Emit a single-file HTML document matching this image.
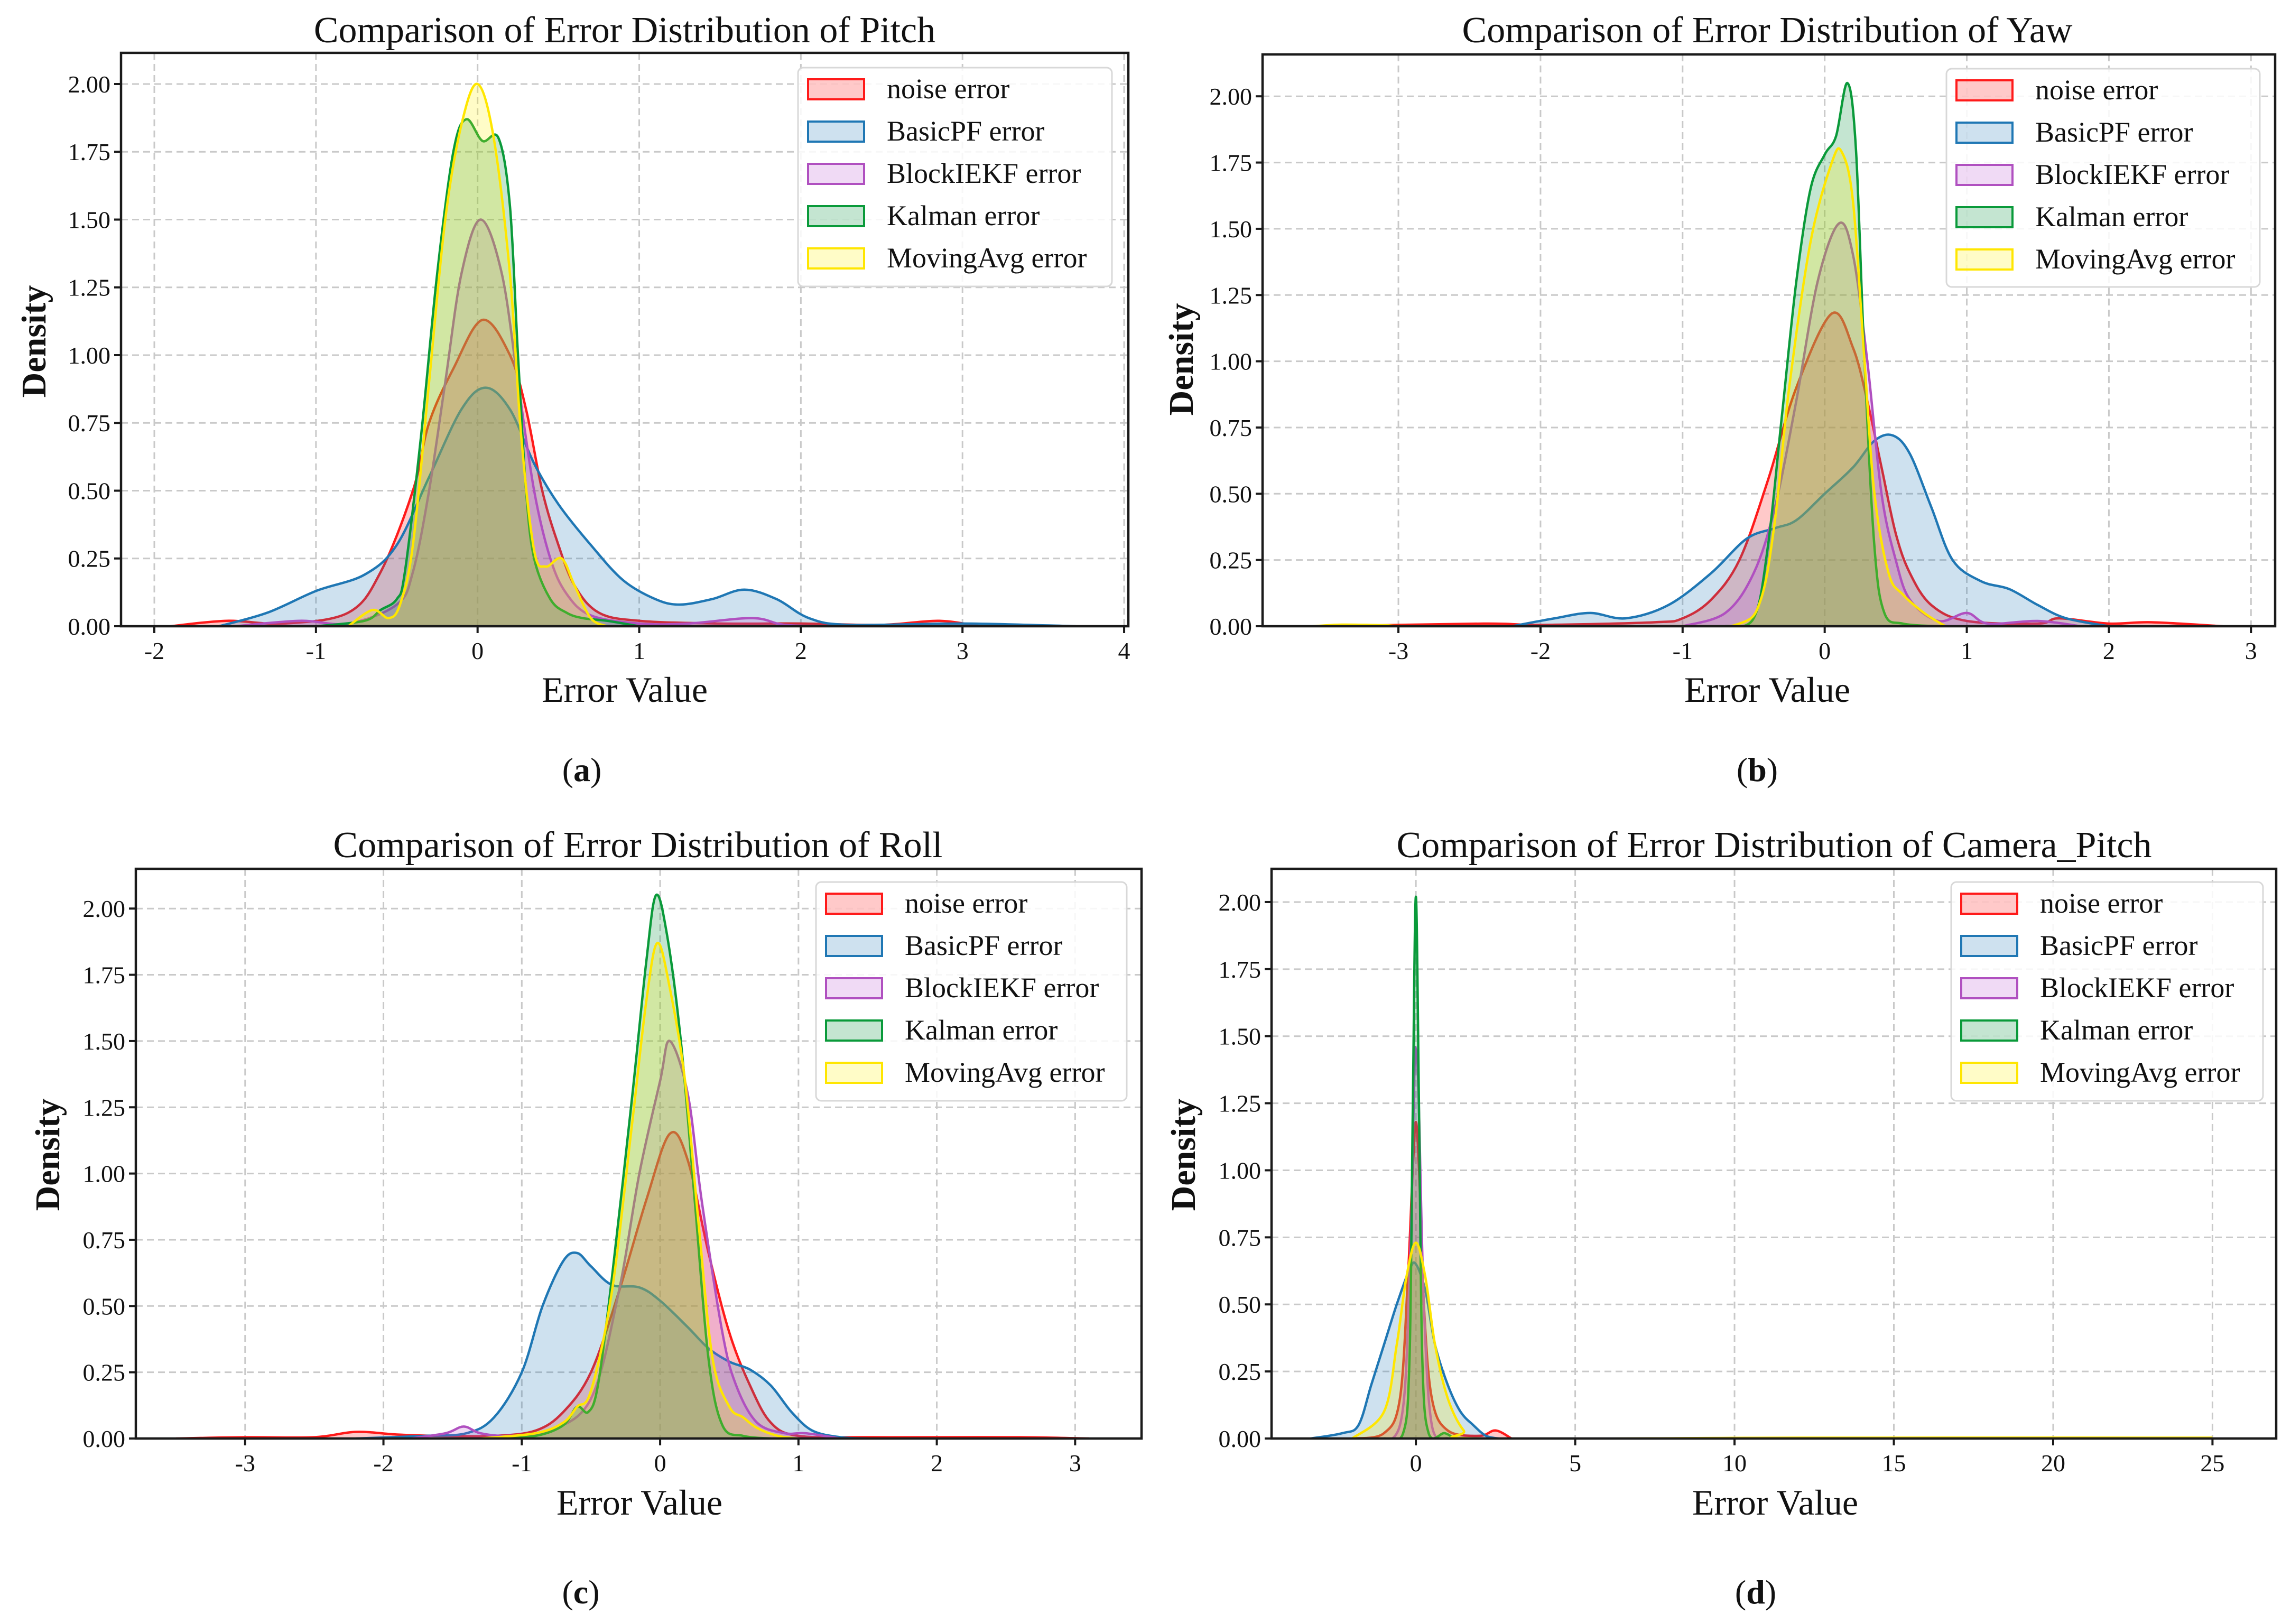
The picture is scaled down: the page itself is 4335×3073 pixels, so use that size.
<!DOCTYPE html>
<html><head><meta charset="utf-8"><style>
html,body{margin:0;padding:0;background:#fff;}
svg{display:block;}
text{font-family:"Liberation Serif",serif;fill:#111;}
</style></head><body>
<svg id="fig" width="4335" height="3073" viewBox="0 0 4335 3073" xmlns="http://www.w3.org/2000/svg"></svg>
<script>
// ---------- data ----------
const seriesNames = ["noise error","BasicPF error","BlockIEKF error","Kalman error","MovingAvg error"];
const yTickLabels = ["0.00","0.25","0.50","0.75","1.00","1.25","1.50","1.75","2.00"];
const pitchXTicks = [-2,-1,0,1,2,3,4];
const yawXTicks = [-3,-2,-1,0,1,2,3];
const rollXTicks = [-3,-2,-1,0,1,2,3];
const camXTicks = [0,5,10,15,20,25];

const pitchNoise = [[-1.9,0],[-1.55,0.02],[-1.2,0.01],[-0.8,0.05],[-0.6,0.2],[-0.4,0.5],[-0.3,0.75],[-0.15,0.95],[0.03,1.13],[0.2,1.0],[0.3,0.8],[0.4,0.5],[0.5,0.3],[0.6,0.15],[0.75,0.05],[1,0.02],[1.5,0.01],[2,0.01],[2.5,0.005],[2.85,0.02],[3.1,0]];
const pitchBasic = [[-1.6,0],[-1.3,0.05],[-1,0.13],[-0.7,0.19],[-0.5,0.3],[-0.3,0.55],[-0.1,0.8],[0.05,0.88],[0.2,0.8],[0.35,0.6],[0.5,0.45],[0.7,0.3],[0.9,0.17],[1.1,0.1],[1.25,0.08],[1.45,0.1],[1.65,0.135],[1.85,0.1],[2.05,0.03],[2.3,0.005],[3,0.01],[3.7,0]];
const pitchBlock = [[-1.5,0],[-1.1,0.02],[-0.8,0.01],[-0.5,0.08],[-0.4,0.2],[-0.3,0.5],[-0.2,0.9],[-0.1,1.3],[0.02,1.5],[0.15,1.3],[0.25,0.9],[0.35,0.5],[0.45,0.25],[0.55,0.12],[0.7,0.04],[1,0.01],[1.3,0.01],[1.7,0.03],[1.9,0.005],[2.2,0]];
const pitchKalman = [[-1,0],[-0.7,0.02],[-0.6,0.06],[-0.5,0.1],[-0.45,0.2],[-0.35,0.7],[-0.25,1.3],[-0.15,1.75],[-0.07,1.87],[0.03,1.79],[0.13,1.8],[0.2,1.55],[0.25,1.0],[0.3,0.5],[0.35,0.25],[0.45,0.1],[0.55,0.05],[0.65,0.03],[0.8,0.02],[1,0]];
const pitchMA = [[-0.8,0],[-0.65,0.06],[-0.55,0.03],[-0.48,0.08],[-0.4,0.3],[-0.3,0.9],[-0.2,1.5],[-0.1,1.85],[0,2.0],[0.1,1.8],[0.2,1.3],[0.27,0.7],[0.35,0.28],[0.42,0.22],[0.52,0.25],[0.6,0.15],[0.7,0.03],[0.8,0]];

const yawNoise = [[-3.5,0],[-2.4,0.01],[-2,0.005],[-1.2,0.015],[-1,0.03],[-0.8,0.1],[-0.6,0.25],[-0.4,0.55],[-0.2,0.9],[0.05,1.18],[0.2,1.05],[0.3,0.85],[0.4,0.6],[0.5,0.35],[0.6,0.2],[0.75,0.08],[1,0.02],[1.5,0.01],[1.65,0.03],[2,0.01],[2.3,0.015],[2.8,0]];
const yawBasic = [[-2.2,0],[-1.9,0.03],[-1.65,0.05],[-1.4,0.03],[-1.1,0.08],[-0.8,0.2],[-0.55,0.33],[-0.35,0.37],[-0.2,0.4],[0,0.5],[0.2,0.6],[0.35,0.7],[0.48,0.72],[0.6,0.65],[0.75,0.45],[0.9,0.25],[1.1,0.17],[1.3,0.14],[1.5,0.08],[1.7,0.03],[2,0]];
const yawBlock = [[-1,0],[-0.7,0.05],[-0.5,0.2],[-0.35,0.45],[-0.2,0.85],[-0.05,1.3],[0.1,1.52],[0.2,1.4],[0.3,1.0],[0.4,0.5],[0.5,0.25],[0.6,0.1],[0.8,0.02],[1.0,0.05],[1.15,0.01],[1.5,0.02],[1.8,0]];
const yawKalman = [[-0.7,0],[-0.5,0.03],[-0.4,0.3],[-0.3,0.8],[-0.2,1.3],[-0.1,1.65],[0,1.78],[0.08,1.85],[0.16,2.05],[0.22,1.8],[0.28,1.0],[0.35,0.3],[0.42,0.05],[0.55,0.01],[0.8,0]];
const yawMA = [[-3.6,0],[-3.4,0.006],[-3.1,0.004],[-2.8,0],[-1,0],[-0.6,0.01],[-0.45,0.1],[-0.35,0.4],[-0.25,0.9],[-0.1,1.45],[0.05,1.75],[0.12,1.79],[0.2,1.6],[0.28,1.0],[0.35,0.5],[0.45,0.2],[0.55,0.12],[0.7,0.05],[0.85,0]];

const rollNoise = [[-3.5,0],[-3,0.005],[-2.5,0.005],[-2.2,0.025],[-1.9,0.015],[-1.6,0.01],[-1.2,0.01],[-0.9,0.03],[-0.7,0.1],[-0.5,0.25],[-0.3,0.55],[-0.1,0.9],[0.07,1.15],[0.2,1.05],[0.35,0.7],[0.5,0.4],[0.65,0.2],[0.8,0.06],[1,0.01],[1.5,0.005],[2,0.005],[2.6,0.005],[3.1,0]];
const rollBasic = [[-2.2,0],[-1.7,0.01],[-1.4,0.02],[-1.2,0.08],[-1,0.25],[-0.85,0.5],[-0.7,0.67],[-0.6,0.7],[-0.5,0.65],[-0.35,0.58],[-0.15,0.57],[0,0.52],[0.2,0.42],[0.35,0.34],[0.5,0.29],[0.65,0.26],[0.8,0.2],[0.95,0.1],[1.1,0.03],[1.3,0.005],[1.5,0]];
const rollBlock = [[-1.8,0],[-1.55,0.02],[-1.42,0.045],[-1.3,0.02],[-1.1,0.01],[-0.8,0.03],[-0.5,0.15],[-0.3,0.55],[-0.15,1.0],[0,1.35],[0.07,1.5],[0.2,1.3],[0.3,0.9],[0.45,0.4],[0.55,0.2],[0.7,0.06],[0.9,0.02],[1.05,0.02],[1.3,0]];
const rollKalman = [[-1.2,0],[-0.9,0.01],[-0.7,0.05],[-0.6,0.12],[-0.52,0.1],[-0.45,0.2],[-0.35,0.6],[-0.2,1.3],[-0.1,1.8],[-0.03,2.05],[0.05,1.9],[0.15,1.5],[0.25,0.9],[0.35,0.3],[0.45,0.05],[0.6,0.01],[0.8,0]];
const rollMA = [[-1.3,0],[-0.9,0.02],[-0.7,0.06],[-0.6,0.12],[-0.5,0.18],[-0.35,0.55],[-0.2,1.2],[-0.1,1.65],[-0.02,1.87],[0.07,1.7],[0.18,1.35],[0.28,0.8],[0.38,0.3],[0.5,0.12],[0.6,0.08],[0.7,0.04],[0.85,0.01],[1,0]];

const camNoise = [[-2,0],[-1,0.02],[-0.5,0.15],[-0.25,0.6],[-0.1,1.0],[0,1.18],[0.1,1.0],[0.25,0.5],[0.5,0.15],[1,0.03],[2,0.01],[2.5,0.03],[3,0]];
const camBasic = [[-3.3,0],[-2.3,0.02],[-1.8,0.05],[-1.4,0.2],[-1,0.35],[-0.6,0.5],[-0.2,0.63],[0,0.65],[0.3,0.55],[0.6,0.35],[1,0.2],[1.4,0.1],[1.8,0.05],[2.2,0.01],[2.6,0]];
const camBlock = [[-1.5,0],[-0.5,0.05],[-0.2,0.6],[-0.05,1.35],[0,1.45],[0.08,1.3],[0.25,0.5],[0.5,0.05],[1,0]];
const camKalman = [[-1,0],[-0.4,0.02],[-0.2,0.3],[-0.1,1.2],[0,2.02],[0.1,1.2],[0.2,0.3],[0.4,0.02],[0.9,0.02],[1.2,0]];
const camMA = [[-2,0],[-1,0.1],[-0.6,0.35],[-0.3,0.6],[0,0.73],[0.3,0.6],[0.6,0.35],[1,0.15],[1.5,0.03],[2,0],[12,0.003],[25,0.003]];

// ---------- style / layout ----------
const colors = ["#ff1a1a","#1f77b4","#b050c0","#0a9a3a","#ffe600"];
const fills = ["rgba(255,40,40,0.25)","rgba(31,119,180,0.22)","rgba(186,85,211,0.22)","rgba(20,150,70,0.25)","rgba(255,240,0,0.22)"];

const panels = [
 {id:"pitch", title:"Comparison of Error Distribution of Pitch", L:229,R:2135,T:100,B:1185, x0:-2.206,x1:4.026, ymax:2.115, ticks:pitchXTicks,
  series:[pitchNoise,pitchBasic,pitchBlock,pitchKalman,pitchMA], tx:1182, ty:80, xlx:1182, xly:1328, dx:64, dy:646, leg:[1510,128,594,414], letter:"a", lx:1101, ly:1478},
 {id:"yaw", title:"Comparison of Error Distribution of Yaw", L:2389,R:4305,T:103,B:1185, x0:-3.956,x1:3.17, ymax:2.158, ticks:yawXTicks,
  series:[yawNoise,yawBasic,yawBlock,yawKalman,yawMA], tx:3344, ty:80, xlx:3344, xly:1328, dx:2235, dy:680, leg:[3683,130,593,413], letter:"b", lx:3325, ly:1478},
 {id:"roll", title:"Comparison of Error Distribution of Roll", L:257,R:2160,T:1644,B:2722, x0:-3.79,x1:3.48, ymax:2.15, ticks:rollXTicks,
  series:[rollNoise,rollBasic,rollBlock,rollKalman,rollMA], tx:1207, ty:1622, xlx:1210, xly:2866, dx:90, dy:2185, leg:[1544,1669,588,414], letter:"c", lx:1099, ly:3034},
 {id:"camera-pitch", title:"Comparison of Error Distribution of Camera_Pitch", L:2406,R:4307,T:1644,B:2722, x0:-4.53,x1:27.0, ymax:2.124, ticks:camXTicks,
  series:[camNoise,camBasic,camBlock,camKalman,camMA], tx:3357, ty:1622, xlx:3359, xly:2866, dx:2239, dy:2185, leg:[3692,1669,590,414], letter:"d", lx:3322, ly:3034}
];

const NS="http://www.w3.org/2000/svg";
const fig=document.getElementById("fig");
function mk(tag,attrs,parent){const e=document.createElementNS(NS,tag);for(const k in attrs)e.setAttribute(k,attrs[k]);(parent||fig).appendChild(e);return e;}

function smoothPath(pts){
  let d="M"+pts[0][0].toFixed(1)+","+pts[0][1].toFixed(1);
  for(let i=0;i<pts.length-1;i++){
    const p0=pts[i-1]||pts[i],p1=pts[i],p2=pts[i+1],p3=pts[i+2]||p2;
    const c1x=p1[0]+(p2[0]-p0[0])/6,c1y=p1[1]+(p2[1]-p0[1])/6;
    const c2x=p2[0]-(p3[0]-p1[0])/6,c2y=p2[1]-(p3[1]-p1[1])/6;
    d+=" C"+c1x.toFixed(1)+","+c1y.toFixed(1)+" "+c2x.toFixed(1)+","+c2y.toFixed(1)+" "+p2[0].toFixed(1)+","+p2[1].toFixed(1);
  }
  return d;
}

panels.forEach((p,pi)=>{
  const g=mk("g",{});
  
  
  const xs=v=>p.L+(v-p.x0)/(p.x1-p.x0)*(p.R-p.L);
  const ys=v=>p.B-v/p.ymax*(p.B-p.T);
  const clipId="clip"+pi;
  const cp=mk("clipPath",{id:clipId},g);
  mk("rect",{x:p.L,y:p.T,width:p.R-p.L,height:p.B-p.T},cp);

  // grid
  const grid=mk("g",{stroke:"#c9c9c9","stroke-width":3,"stroke-dasharray":"13,8"},g);
  
  
  yTickLabels.forEach((lab)=>{const y=ys(parseFloat(lab));mk("line",{x1:p.L,x2:p.R,y1:y,y2:y},grid);});
  p.ticks.forEach(t=>{const x=xs(t);mk("line",{x1:x,x2:x,y1:p.T,y2:p.B},grid);});

  // series
  const sg=mk("g",{"clip-path":"url(#"+clipId+")"},g);
  p.series.forEach((s,si)=>{
    const pts=s.map(d=>[xs(d[0]),ys(d[1])]);
    const line=smoothPath(pts);
    const area=mk("path",{d:line+" L"+pts[pts.length-1][0].toFixed(1)+","+p.B+" L"+pts[0][0].toFixed(1)+","+p.B+" Z",fill:fills[si],stroke:"none"},sg);
    
    
    const ln=mk("path",{d:line,fill:"none",stroke:colors[si],"stroke-width":4.5,"stroke-linejoin":"round"},sg);
    
    
  });

  // axes frame
  const fr=mk("rect",{x:p.L,y:p.T,width:p.R-p.L,height:p.B-p.T,fill:"none",stroke:"#1a1a1a","stroke-width":4.5},g);
  
  

  // y ticks
  yTickLabels.forEach(lab=>{
    const y=ys(parseFloat(lab));
    mk("line",{x1:p.L-13,x2:p.L,y1:y,y2:y,stroke:"#1a1a1a","stroke-width":4},g);
    const t=mk("text",{x:p.L-20,y:y+16,"text-anchor":"end","font-size":46},g);
    t.textContent=lab;
    
    
  });
  // x ticks
  p.ticks.forEach(v=>{
    const x=xs(v);
    mk("line",{x1:x,x2:x,y1:p.B,y2:p.B+13,stroke:"#1a1a1a","stroke-width":4},g);
    const t=mk("text",{x:x,y:p.B+62,"text-anchor":"middle","font-size":46},g);
    t.textContent=String(v);
    
    
  });

  // title & labels
  const ti=mk("text",{x:p.tx,y:p.ty,"text-anchor":"middle","font-size":70},g);
  ti.textContent=p.title;
  
  
  const xl=mk("text",{x:p.xlx,y:p.xly,"text-anchor":"middle","font-size":68},g);
  xl.textContent="Error Value";
  
  
  const yl=mk("text",{x:0,y:0,"text-anchor":"middle","font-size":66,"font-weight":"bold",transform:"translate("+(p.dx+22)+","+p.dy+") rotate(-90)"},g);
  yl.textContent="Density";
  
  

  // legend
  const [lx,ly,lw,lh]=p.leg;
  const lg=mk("g",{},g);
  
  
  mk("rect",{x:lx,y:ly,width:lw,height:lh,rx:10,fill:"rgba(255,255,255,0.85)",stroke:"#d8d8d8","stroke-width":3},lg);
  seriesNames.forEach((n,i)=>{
    const cy=ly+41+i*80;
    const e=mk("g",{},lg);
    
    
    mk("rect",{x:lx+19,y:cy-19,width:106,height:38,fill:fills[i],stroke:colors[i],"stroke-width":4},e);
    const t=mk("text",{x:lx+168,y:cy+17,"font-size":54},e);
    t.textContent=n;
  });

  // panel letter
  const lt=mk("text",{x:p.lx,y:p.ly,"text-anchor":"middle","font-size":64},g);
  
  
  const a=mk("tspan",{},lt);a.textContent="(";
  const b=mk("tspan",{"font-weight":"bold"},lt);b.textContent=p.letter;
  const c=mk("tspan",{},lt);c.textContent=")";
});
</script>
</body></html>
